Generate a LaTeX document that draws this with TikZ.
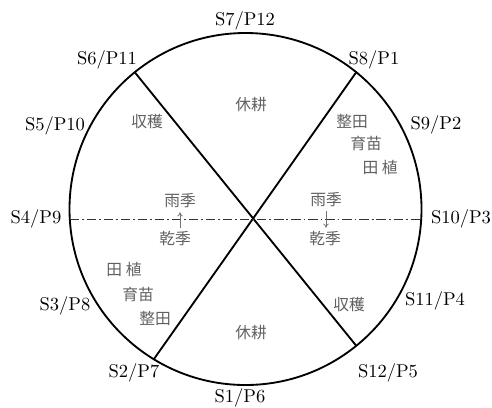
\documentclass[tikz,border=0pt]{standalone}
\usepackage{fontspec}
\newfontfamily\cjk{Noto Sans CJK JP}
\usepackage{tikz}
\usetikzlibrary{arrows.meta}

\begin{document}
\begin{tikzpicture}[
  x=0.54pt, y=0.54pt,
  rim/.style={line width=1pt},
  cut/.style={line width=1pt},
  axis/.style={line width=0.6pt, black!80, dash pattern=on 5pt off 1.6pt on 1pt off 1.6pt},
  month/.style={font=\fontsize{10}{12}\selectfont, inner sep=0pt},
  work/.style={font=\cjk\fontsize{8.5}{10}\selectfont, text=black!62, inner sep=1pt},
  season/.style={-{To[length=2.2pt,width=3pt]}, black!55, line width=0.4pt, shorten >=1pt, shorten <=1pt}
]
  \useasboundingbox (0,0) rectangle (492,407);

  % Rim and cuts
  \coordinate (O) at (245.5,198);
  \draw[rim] (O) circle (176);
  \path (O) ++(129:176) coordinate (p11)
        (O) ++(51:176) coordinate (p1)
        (O) ++(238.6:176) coordinate (p7)
        (O) ++(309:176) coordinate (p5)
        (O) ++(183.3:176) coordinate (p9)
        (O) ++(-3.3:176) coordinate (p3);
  \draw[cut] (p11) -- (p5);
  \draw[cut] (p1) -- (p7);
  \draw[axis] (p9) -- (p3);

  % Month labels
  \node[month] (m12) at (245,386) {S7/P12};
  \node[month] (m11) at (107,347) {S6/P11};
  \node[month] (m1)  at (374,347) {S8/P1};
  \node[month] (m10) at (55,281)  {S5/P10};
  \node[month] (m2)  at (436,282) {S9/P2};
  \node[month] (m9)  at (36,188)  {S4/P9};
  \node[month] (m3)  at (461,188) {S10/P3};
  \node[month] (m8)  at (65,101)  {S3/P8};
  \node[month] (m4)  at (435,106) {S11/P4};
  \node[month] (m7)  at (134,34)  {S2/P7};
  \node[month] (m5)  at (388,34)  {S12/P5};
  \node[month] (m6)  at (240,9)   {S1/P6};

  % Farm work, upper half
  \node[work] (fallowT) at (251,302) {休耕};
  \node[work] (harvL)   at (147,285) {収穫};
  \node[work] (prepR)   at (352,286) {整田};
  \node[work] (nurseR)  at (366,263) {育苗};
  \node[work] (plantR)  at (380,239) {田 植};

  % Farm work, lower half
  \node[work] (plantL)  at (124,137) {田 植};
  \node[work] (nurseL)  at (138,112) {育苗};
  \node[work] (prepL)   at (155,89)  {整田};
  \node[work] (fallowB) at (251,74)  {休耕};
  \node[work] (harvR)   at (349,102) {収穫};

  % Seasons
  \node[work] (wetL) at (180,206) {雨季};
  \node[work] (dryL) at (175,168) {乾季};
  \node[work] (wetR) at (326,207) {雨季};
  \node[work] (dryR) at (325,168) {乾季};
  \draw[season] (wetL.south |- dryL.north) -- (wetL.south);
  \draw[season] (wetR.south) -- (wetR.south |- dryR.north);
\end{tikzpicture}
\end{document}
